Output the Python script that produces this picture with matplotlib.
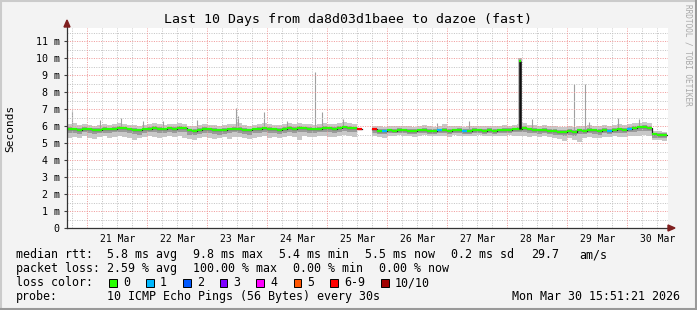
import numpy as np
import matplotlib
matplotlib.use("Agg")
import matplotlib.pyplot as plt
from matplotlib.patches import Rectangle, Polygon
from matplotlib.lines import Line2D
from datetime import datetime, timedelta

# ---------------- data ----------------
start = datetime(2026, 3, 20, 15, 51, 21)
bin_hours = 2
nan = np.nan

median_ms = [
    5.82, 5.80, 5.78, 5.84, 5.80, 5.76, 5.78, 5.82, 5.80, 5.85, 5.90, 5.86,
    5.80, 5.78, 5.74, 5.80, 5.84, 5.88, 5.82, 5.80, 5.86, 5.84, 5.90, 5.86,
    5.74, 5.72, 5.78, 5.82, 5.80, 5.76, 5.74, 5.78, 5.80, 5.84, 5.82, 5.78,
    5.74, 5.80, 5.82, 5.86, 5.84, 5.80, 5.78, 5.82, 5.88, 5.84, 5.90, 5.86,
    5.82, 5.80, 5.84, 5.88, 5.86, 5.84, 5.90, 5.92, 5.88, 5.86, 5.84,
    nan, nan,
    5.80, 5.72, 5.70, 5.74, 5.72, 5.76, 5.74, 5.72, 5.70, 5.74, 5.76, 5.72,
    5.70, 5.74, 5.78, 5.72, 5.74, 5.76, 5.70, 5.72, 5.76, 5.74, 5.72, 5.76,
    5.72, 5.74, 5.78, 5.76, 5.80, 5.84, 5.86, 5.80, 5.78, 5.74, 5.76, 5.72,
    5.70, 5.66, 5.62, 5.70, 5.66, 5.74, 5.72, 5.76, 5.74, 5.70, 5.76, 5.72,
    5.78, 5.80, 5.76, 5.84, 5.88, 5.92, 5.94, 5.90, 5.52, 5.50, 5.48,
]

# lost pings (of 10) per bin
loss = [0] * 120
for i, v in [(58, 6), (59, 10), (60, 10), (61, 6), (63, 1), (74, 1), (79, 1),
             (108, 1), (112, 1)]:
    loss[i] = v

smoke_min = [
    5.30, 5.35, 5.28, 5.40, 5.32, 5.25, 5.38, 5.42, 5.30, 5.36, 5.40, 5.34,
    5.32, 5.20, 5.30, 5.38, 5.40, 5.35, 5.30, 5.38, 5.42, 5.36, 5.40, 5.32,
    5.22, 5.18, 5.30, 5.36, 5.28, 5.24, 5.30, 5.34, 5.22, 5.38, 5.34, 5.30,
    5.26, 5.32, 5.36, 5.40, 5.30, 5.34, 5.28, 5.36, 5.40, 5.38, 5.20, 5.42,
    5.36, 5.34, 5.40, 5.44, 5.38, 5.36, 5.42, 5.46, 5.40, 5.38, 5.44,
    nan, nan,
    5.40, 5.38, 5.30, 5.42, 5.44, 5.46, 5.40, 5.42, 5.38, 5.44, 5.46, 5.40,
    5.42, 5.40, 5.44, 5.38, 5.46, 5.42, 5.40, 5.44, 5.40, 5.46, 5.44, 5.42,
    5.40, 5.44, 5.42, 5.46, 5.40, 5.42, 5.44, 5.38, 5.40, 5.36, 5.42, 5.38,
    5.30, 5.26, 5.10, 5.32, 5.20, 5.05, 5.30, 5.36, 5.32, 5.30, 5.36, 5.34,
    5.40, 5.38, 5.36, 5.40, 5.42, 5.44, 5.46, 5.44, 5.18, 5.20, 5.14,
]

smoke_max = [
    6.10, 6.15, 6.05, 6.12, 6.08, 6.02, 6.06, 6.10, 6.08, 6.14, 6.20, 6.12,
    6.08, 6.04, 6.00, 6.06, 6.12, 6.16, 6.10, 6.06, 6.14, 6.10, 6.18, 6.12,
    6.00, 5.98, 6.06, 6.10, 6.08, 6.04, 6.00, 6.06, 6.10, 6.14, 6.20, 6.08,
    6.02, 6.08, 6.10, 6.18, 6.12, 6.08, 6.06, 6.10, 6.16, 6.12, 6.20, 6.14,
    6.10, 6.08, 6.12, 6.16, 6.14, 6.12, 6.18, 6.22, 6.16, 6.14, 6.10,
    nan, nan,
    6.02, 5.98, 5.96, 6.00, 5.98, 6.02, 6.00, 5.98, 5.96, 6.00, 6.04, 5.98,
    5.96, 6.00, 6.10, 5.98, 6.00, 6.02, 5.96, 5.98, 6.02, 6.00, 5.98, 6.02,
    5.98, 6.00, 6.04, 6.02, 6.06, 6.10, 6.20, 6.08, 6.06, 6.02, 6.04, 6.00,
    5.98, 5.94, 5.92, 5.98, 5.96, 6.02, 6.00, 6.04, 6.02, 5.98, 6.04, 6.00,
    6.06, 6.10, 6.04, 6.12, 6.16, 6.20, 6.22, 6.18, 5.70, 5.68, 5.66,
]

smoke_q1 = [
    5.60, 5.58, 5.55, 5.62, 5.58, 5.52, 5.56, 5.60, 5.58, 5.62, 5.66, 5.62,
    5.58, 5.52, 5.50, 5.58, 5.62, 5.64, 5.60, 5.58, 5.62, 5.60, 5.66, 5.62,
    5.50, 5.46, 5.54, 5.60, 5.56, 5.52, 5.50, 5.54, 5.56, 5.62, 5.58, 5.54,
    5.50, 5.56, 5.60, 5.64, 5.60, 5.56, 5.54, 5.58, 5.64, 5.60, 5.62, 5.62,
    5.60, 5.56, 5.62, 5.66, 5.62, 5.60, 5.66, 5.70, 5.64, 5.62, 5.62,
    nan, nan,
    5.60, 5.54, 5.52, 5.56, 5.56, 5.58, 5.56, 5.54, 5.52, 5.56, 5.58, 5.54,
    5.52, 5.56, 5.60, 5.54, 5.58, 5.58, 5.52, 5.54, 5.58, 5.56, 5.54, 5.58,
    5.54, 5.56, 5.60, 5.58, 5.62, 5.64, 5.66, 5.60, 5.58, 5.54, 5.58, 5.54,
    5.50, 5.46, 5.40, 5.50, 5.44, 5.54, 5.52, 5.56, 5.54, 5.50, 5.56, 5.52,
    5.58, 5.60, 5.56, 5.64, 5.66, 5.70, 5.72, 5.68, 5.32, 5.30, 5.28,
]

smoke_q3 = [
    5.92, 5.90, 5.88, 5.94, 5.90, 5.86, 5.88, 5.92, 5.90, 5.95, 6.00, 5.96,
    5.90, 5.88, 5.84, 5.90, 5.94, 5.98, 5.92, 5.90, 5.96, 5.94, 6.00, 5.96,
    5.84, 5.82, 5.88, 5.92, 5.90, 5.86, 5.84, 5.88, 5.90, 5.94, 5.94, 5.88,
    5.84, 5.90, 5.92, 5.96, 5.94, 5.90, 5.88, 5.92, 5.98, 5.94, 6.00, 5.96,
    5.92, 5.90, 5.94, 5.98, 5.96, 5.94, 6.00, 6.02, 5.98, 5.96, 5.94,
    nan, nan,
    5.90, 5.82, 5.80, 5.84, 5.82, 5.86, 5.84, 5.82, 5.80, 5.84, 5.86, 5.82,
    5.80, 5.84, 5.90, 5.82, 5.84, 5.86, 5.80, 5.82, 5.86, 5.84, 5.82, 5.86,
    5.82, 5.84, 5.88, 5.86, 5.90, 5.94, 5.98, 5.90, 5.88, 5.84, 5.86, 5.82,
    5.80, 5.76, 5.74, 5.80, 5.76, 5.84, 5.82, 5.86, 5.84, 5.80, 5.86, 5.82,
    5.88, 5.90, 5.86, 5.94, 5.98, 6.02, 6.04, 6.00, 5.60, 5.58, 5.56,
]

# thin smoke outliers: hour offset from start, top value (ms)
outlier_hours = [2.0, 13.0, 21.6, 30.4, 38.4, 52.0, 67.6, 68.4, 78.8, 88.0,
                 99.2, 102.0, 110.4, 148.0, 160.8, 186.0, 202.8, 207.2,
                 208.8, 220.4, 228.8]
outlier_top = [6.90, 6.35, 6.50, 6.30, 6.30, 6.35, 7.05, 6.60, 6.84, 6.30,
               9.20, 6.84, 6.40, 6.15, 6.30, 6.40, 8.47, 8.47,
               6.25, 6.50, 6.40]

# median spike
peak_hours = [181.2]
peak_ms = [9.80]
peak_smoke_top = [10.0]

day_labels = ["21 Mar", "22 Mar", "23 Mar", "24 Mar", "25 Mar",
              "26 Mar", "27 Mar", "28 Mar", "29 Mar", "30 Mar"]
y_values = list(range(0, 12))
y_labels = ["0"] + [f"{v} m" for v in range(1, 12)]

loss_labels = ["0", "1", "2", "3", "4", "5", "6-9", "10/10"]
loss_colors = ["#26ff00", "#00b8ff", "#0059ff", "#7e00ff", "#ff00ff",
               "#ff5500", "#ff0000", "#a10000"]

title = "Last 10 Days from da8d03d1baee to dazoe (fast)"
rtt_stats = ["5.8 ms avg", "9.8 ms max", "5.4 ms min", "5.5 ms now",
             "0.2 ms sd", "29.7", "am/s"]
loss_stats = ["2.59 % avg", "100.00 % max", "0.00 % min", "0.00 % now"]
probe_text = "10 ICMP Echo Pings (56 Bytes) every 30s"
stamp = "Mon Mar 30 15:51:21 2026"

# ---------------- figure ----------------
W, H = 697, 310
plt.rcParams["font.family"] = ["DejaVu Sans Mono"]
fig = plt.figure(figsize=(W / 100, H / 100), dpi=100)
fig.patch.set_facecolor("#F3F3F3")

def fx(x):
    return x / W

def fy(y):
    return 1 - y / H

ax_l, ax_r, ax_t, ax_b = 67, 668, 28, 228
ax = fig.add_axes([fx(ax_l), fy(ax_b), (ax_r - ax_l) / W, (ax_b - ax_t) / H])
ax.set_facecolor("white")
ymax = (ax_b - ax_t) / 17.0
hours_span = (ax_r - ax_l) / 2.5
ax.set_xlim(0, hours_span)
ax.set_ylim(0, ymax)

def hrs(dt):
    return (dt - start).total_seconds() / 3600.0

# grid
midnights = [hrs(datetime(2026, 3, 21) + timedelta(days=k)) for k in range(10)]
six_h = []
d = datetime(2026, 3, 20, 18)
while hrs(d) < hours_span:
    if d.hour != 0:
        six_h.append(hrs(d))
    d += timedelta(hours=6)
noons = [hrs(datetime(2026, 3, 21, 12) + timedelta(days=k)) for k in range(10)]

dot = (0, (1.0, 1.4))
ax.vlines(six_h, 0, ymax, colors="#C4C4C4", linewidth=0.72, linestyles=[dot], zorder=2)
ax.hlines(np.arange(0.5, ymax, 1.0), 0, hours_span, colors="#C4C4C4",
          linewidth=0.72, linestyles=[dot], zorder=2)
ax.vlines(midnights, 0, ymax, colors="#F09A9A", linewidth=0.72, linestyles=[dot], zorder=2)
ax.hlines(np.arange(1, 12), 0, hours_span, colors="#F09A9A",
          linewidth=0.72, linestyles=[dot], zorder=2)

# smoke
n = len(median_ms)
edges = np.arange(n + 1) * bin_hours

def ext(a):
    a = np.asarray(a, dtype=float)
    return np.append(a, a[-1])

ax.fill_between(edges, ext(smoke_min), ext(smoke_max), step="post",
                color="#C8C8C8", linewidth=0, zorder=1)
ax.fill_between(edges, ext(smoke_q1), ext(smoke_q3), step="post",
                color="#9A9A9A", linewidth=0, zorder=1.1)

# outlier spikes
ax.vlines(outlier_hours, [median_ms[int(h // bin_hours)] for h in outlier_hours],
          outlier_top, colors="#A0A0A0", linewidth=0.8, zorder=1.2)
ax.vlines(peak_hours, [median_ms[int(h // bin_hours)] for h in peak_hours],
          peak_smoke_top, colors="#B0B0B0", linewidth=2.6, zorder=1.2)

# median: dark step line + coloured segments
ax.step(edges, ext(median_ms), where="post", color="#202020", linewidth=0.9, zorder=3)

def loss_idx(v):
    if v <= 5:
        return v
    if v <= 9:
        return 6
    return 7

med = np.asarray(median_ms, dtype=float)
ok = ~np.isnan(med)
seg_cols = [loss_colors[loss_idx(loss[i])] for i in range(n) if ok[i]]
ax.hlines(med[ok], edges[:-1][ok], edges[1:][ok], colors=seg_cols,
          linewidth=1.6, zorder=4)

ax.vlines(peak_hours, [median_ms[int(h // bin_hours)] for h in peak_hours],
          peak_ms, colors="#101010", linewidth=1.8, zorder=5)
ax.hlines(peak_ms, np.array(peak_hours) - 0.3, np.array(peak_hours) + 0.3,
          colors=loss_colors[0], linewidth=1.6, zorder=6)

# axes styling
for s in ax.spines.values():
    s.set_visible(False)
ax.set_xticks(noons)
ax.set_xticklabels(day_labels, fontsize=7)
ax.set_yticks(y_values)
ax.set_yticklabels(y_labels, fontsize=7.2)
ax.tick_params(axis="x", length=0, pad=4)
ax.tick_params(axis="y", length=2.2, width=0.8, color="#404040", pad=3)

axis_col = "#333333"
ax.plot([0, 0], [0, 1.015], transform=ax.transAxes, color=axis_col,
        linewidth=0.9, clip_on=False, zorder=7)
ax.plot([0, 1.006], [0, 0], transform=ax.transAxes, color=axis_col,
        linewidth=0.9, clip_on=False, zorder=7)
arrow_col = "#7F1F1F"
fig.add_artist(Polygon([[fx(64), fy(27)], [fx(70), fy(27)], [fx(67), fy(20)]],
                       closed=True, color=arrow_col, transform=fig.transFigure))
fig.add_artist(Polygon([[fx(668), fy(225)], [fx(668), fy(231)], [fx(675), fy(228)]],
                       closed=True, color=arrow_col, transform=fig.transFigure))

# texts
fig.text(fx(347.5), fy(19), title, ha="center", va="center", fontsize=9.5)
fig.text(fx(10), fy(128), "Seconds", ha="center", va="center", rotation=90, fontsize=8)
fig.text(fx(688), fy(4), "RRDTOOL / TOBI OETIKER", ha="center", va="top",
         rotation=270, fontsize=5.6, color="#A8A8A8")

fs = 8.4
rows_y = [254.5, 268.5, 282.5, 296.5]
fig.text(fx(16), fy(rows_y[0]), "median rtt:", ha="left", va="center", fontsize=fs)
for x, s in zip([107, 193, 279, 365, 451, 531, 579], rtt_stats):
    fig.text(fx(x), fy(rows_y[0]), s, ha="left", va="center", fontsize=fs)
fig.text(fx(16), fy(rows_y[1]), "packet loss:", ha="left", va="center", fontsize=fs)
for x, s in zip([107, 193, 293, 379], loss_stats):
    fig.text(fx(x), fy(rows_y[1]), s, ha="left", va="center", fontsize=fs)
fig.text(fx(16), fy(rows_y[2]), "loss color:", ha="left", va="center", fontsize=fs)
box_x = [109, 146, 183, 219.5, 256, 293.5, 330, 381]
for bx, lab, col in zip(box_x, loss_labels, loss_colors):
    fig.add_artist(Rectangle((fx(bx), fy(rows_y[2] + 4)), 7.5 / W, 8 / H,
                             facecolor=col, edgecolor="black", linewidth=0.7,
                             transform=fig.transFigure))
    fig.text(fx(bx + 14), fy(rows_y[2]), lab, ha="left", va="center", fontsize=fs)
fig.text(fx(16), fy(rows_y[3]), "probe:", ha="left", va="center", fontsize=fs)
fig.text(fx(107), fy(rows_y[3]), probe_text, ha="left", va="center", fontsize=fs)
fig.text(fx(680), fy(rows_y[3]), stamp, ha="right", va="center", fontsize=fs)

# 3D frame
lw = 1.5
fig.add_artist(Line2D([0, 1], [fy(1), fy(1)], color="#CBCBCB", linewidth=lw, transform=fig.transFigure))
fig.add_artist(Line2D([fx(1), fx(1)], [0, 1], color="#CBCBCB", linewidth=lw, transform=fig.transFigure))
fig.add_artist(Line2D([0, 1], [fy(309), fy(309)], color="#999999", linewidth=lw, transform=fig.transFigure))
fig.add_artist(Line2D([fx(696), fx(696)], [0, 1], color="#999999", linewidth=lw, transform=fig.transFigure))

fig.savefig("out.png", dpi=100, facecolor=fig.get_facecolor())
